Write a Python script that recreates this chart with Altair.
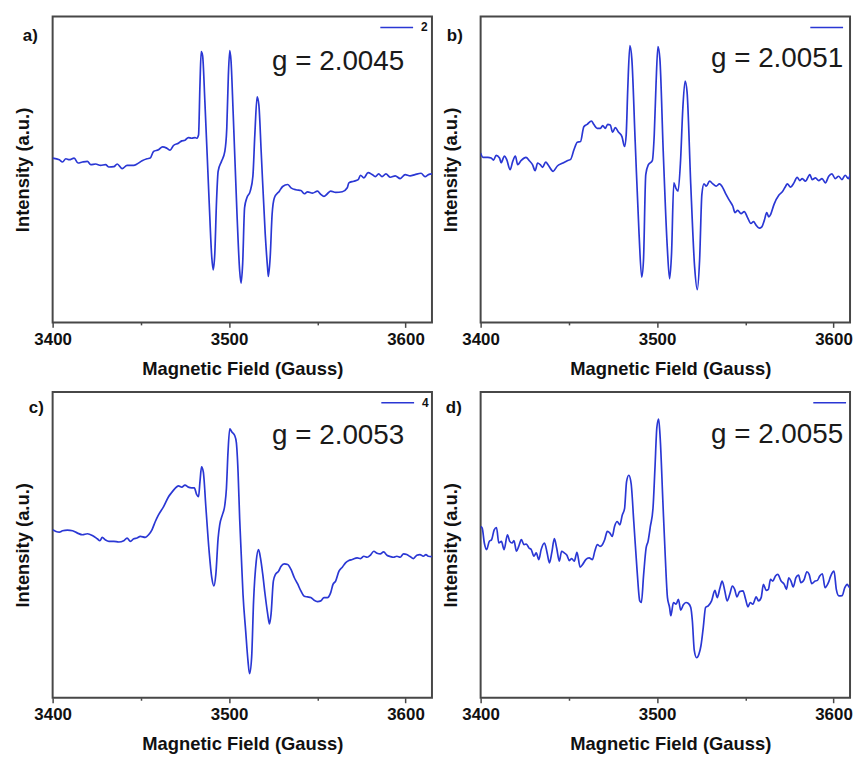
import altair as alt
import pandas as pd

# ---- EPR spectra (field in Gauss, intensity in arbitrary units) ----
A_FIELD = [3400.0, 3403.8, 3405.6, 3407.5, 3409.4, 3412.2, 3414.4, 3416.9, 3419.7, 3421.6,
           3424.4, 3427.2, 3430.0, 3431.9, 3434.7, 3436.6, 3439.4, 3442.2, 3446.0, 3447.8,
           3450.7, 3453.5, 3455.3, 3457.2, 3460.0, 3462.3, 3464.7, 3466.6, 3468.5, 3471.3,
           3473.2, 3475.0, 3476.9, 3478.8, 3480.7, 3481.6, 3482.7, 3483.5, 3484.2, 3485.0,
           3486.3, 3488.7, 3490.2, 3491.0, 3491.9, 3492.9, 3493.8, 3495.7, 3497.6, 3498.7,
           3499.6, 3500.4, 3501.1, 3502.3, 3504.5, 3506.0, 3506.8, 3507.7, 3508.8, 3510.1,
           3512.0, 3513.5, 3514.6, 3515.9, 3516.9, 3518.2, 3520.5, 3521.8, 3522.3, 3523.3,
           3524.4, 3525.7, 3528.5, 3530.4, 3533.2, 3535.1, 3537.9, 3540.7, 3542.6, 3544.5,
           3547.3, 3550.1, 3552.0, 3553.8, 3555.7, 3557.6, 3560.4, 3564.2, 3567.0, 3567.9,
           3570.7, 3573.2, 3574.5, 3576.4, 3578.8, 3581.1, 3582.9, 3584.8, 3586.7, 3588.9,
           3591.4, 3594.2, 3597.0, 3599.8, 3602.6, 3605.4, 3608.8, 3611.1, 3613.0, 3615.0]
A_INT = [49.7, 49.2, 48.5, 49.5, 49.2, 49.7, 48.2, 48.5, 48.7, 47.7,
         47.9, 47.5, 47.7, 47.0, 47.1, 47.9, 46.5, 47.5, 47.5, 47.9,
         48.9, 49.5, 49.7, 51.7, 52.2, 53.1, 52.7, 52.1, 53.5, 54.2,
         54.9, 55.1, 55.9, 55.7, 55.9, 55.7, 56.7, 71.7, 81.9, 80.7,
         66.7, 36.7, 19.7, 15.9, 20.7, 36.7, 45.7, 48.7, 51.7, 58.7,
         74.7, 82.2, 79.2, 63.7, 32.7, 15.7, 11.9, 17.7, 34.7, 37.7,
         39.7, 44.2, 56.7, 68.2, 65.7, 51.7, 26.7, 16.7, 13.9, 19.7,
         32.7, 37.7, 39.7, 41.1, 41.7, 40.7, 40.1, 39.9, 38.9, 39.5,
         39.1, 39.7, 38.7, 38.1, 38.9, 39.7, 39.3, 39.5, 40.7, 42.2,
         42.7, 43.2, 44.5, 43.7, 45.3, 44.7, 44.1, 44.9, 44.1, 44.9,
         43.9, 44.3, 43.5, 44.7, 44.3, 44.7, 45.1, 44.1, 44.7, 44.9]

B_FIELD = [3400.0, 3401.3, 3404.1, 3406.0, 3407.3, 3408.8, 3410.7, 3411.6, 3413.5, 3414.8,
           3416.7, 3418.2, 3419.7, 3421.0, 3422.9, 3425.7, 3427.6, 3429.4, 3430.9, 3432.3,
           3433.8, 3435.1, 3436.9, 3438.4, 3441.1, 3443.5, 3446.3, 3449.1, 3451.0, 3452.9,
           3454.8, 3456.6, 3458.5, 3460.4, 3462.8, 3464.1, 3466.0, 3467.9, 3469.2, 3470.7,
           3472.0, 3473.5, 3474.8, 3476.3, 3478.2, 3480.1, 3481.6, 3482.5, 3483.4, 3484.6,
           3485.7, 3487.6, 3489.8, 3491.3, 3492.3, 3493.6, 3495.1, 3497.3, 3498.4, 3499.4,
           3500.5, 3501.6, 3503.5, 3505.8, 3507.1, 3508.2, 3509.5, 3510.6, 3511.9, 3513.3,
           3514.6, 3515.9, 3517.0, 3519.1, 3521.3, 3522.8, 3524.1, 3525.4, 3526.6, 3527.9,
           3529.8, 3531.6, 3533.5, 3535.4, 3537.3, 3539.1, 3541.0, 3542.9, 3544.2, 3545.7,
           3547.6, 3549.4, 3551.3, 3553.2, 3554.7, 3556.0, 3557.9, 3559.4, 3560.7, 3562.2,
           3563.3, 3564.4, 3566.3, 3569.1, 3571.0, 3572.9, 3573.8, 3575.7, 3577.6, 3579.4,
           3580.9, 3582.3, 3584.1, 3586.6, 3587.9, 3589.8, 3591.6, 3593.5, 3595.4, 3597.3,
           3599.1, 3601.0, 3602.9, 3604.8, 3606.6, 3608.5, 3609.8, 3615.0]
B_INT = [51.2, 49.9, 49.9, 49.7, 49.1, 50.5, 49.7, 48.3, 50.3, 49.2,
         46.2, 48.7, 50.3, 47.7, 48.9, 49.9, 48.9, 47.7, 45.9, 48.2,
         47.7, 46.9, 48.5, 47.5, 45.7, 47.3, 48.1, 48.9, 49.3, 52.2,
         54.5, 54.7, 59.2, 59.9, 60.9, 59.9, 58.7, 58.7, 59.5, 58.7,
         59.9, 59.7, 57.5, 58.9, 57.5, 56.2, 53.2, 56.7, 70.7, 83.7,
         79.7, 54.7, 26.7, 13.7, 18.7, 44.7, 47.7, 48.9, 56.7, 71.7,
         83.4, 79.7, 51.7, 22.7, 13.2, 20.7, 42.2, 40.7, 39.7, 48.7,
         64.7, 73.0, 69.7, 41.7, 16.7, 9.9, 18.7, 38.7, 41.9, 41.2,
         42.7, 41.9, 41.2, 41.9, 40.7, 38.7, 36.9, 35.2, 33.2, 33.9,
         32.9, 33.5, 31.7, 29.9, 30.5, 29.5, 28.5, 28.9, 30.7, 33.2,
         31.9, 32.7, 35.7, 38.5, 39.5, 41.2, 41.9, 40.9, 42.2, 43.9,
         42.9, 43.5, 42.7, 44.7, 43.2, 43.7, 42.9, 43.5, 42.2, 44.2,
         44.9, 43.5, 44.2, 43.2, 44.5, 43.5, 44.9, 44.2]

C_FIELD = [3400.0, 3401.9, 3403.8, 3405.6, 3408.4, 3411.3, 3414.1, 3416.9, 3419.7, 3422.5,
           3425.3, 3426.8, 3428.1, 3430.0, 3431.9, 3434.7, 3437.5, 3440.3, 3442.2, 3444.1,
           3446.0, 3447.8, 3449.7, 3452.5, 3454.4, 3456.3, 3458.2, 3460.0, 3462.9, 3465.7,
           3467.5, 3469.4, 3471.3, 3473.2, 3475.0, 3476.9, 3478.8, 3480.3, 3481.6, 3482.7,
           3483.5, 3484.4, 3485.4, 3486.9, 3488.7, 3490.2, 3491.4, 3492.5, 3493.8, 3494.7,
           3496.2, 3497.6, 3498.5, 3499.4, 3500.4, 3501.7, 3503.2, 3504.1, 3505.1, 3506.0,
           3506.9, 3507.9, 3509.4, 3510.7, 3511.6, 3512.8, 3513.9, 3515.4, 3516.7, 3517.8,
           3519.1, 3520.4, 3521.9, 3522.9, 3523.8, 3525.1, 3526.3, 3528.1, 3529.4, 3531.3,
           3533.2, 3535.1, 3537.0, 3538.8, 3540.7, 3542.6, 3544.5, 3546.3, 3548.2, 3550.1,
           3552.0, 3553.8, 3555.7, 3557.6, 3558.9, 3560.4, 3562.3, 3564.2, 3566.0, 3567.9,
           3569.8, 3572.6, 3574.5, 3576.4, 3578.3, 3580.1, 3582.0, 3583.9, 3585.7, 3587.6,
           3589.5, 3591.4, 3593.2, 3595.1, 3597.0, 3598.9, 3600.7, 3602.6, 3604.5, 3606.4,
           3608.2, 3610.1, 3611.6, 3612.9, 3615.0]
C_INT = [50.8, 50.3, 50.1, 50.5, 50.7, 50.5, 49.8, 49.3, 49.6, 49.1,
         48.1, 47.5, 48.5, 47.7, 47.3, 47.3, 47.1, 47.5, 48.3, 47.3,
         48.1, 48.3, 48.8, 48.5, 49.3, 50.8, 53.3, 55.3, 57.8, 60.8,
         62.1, 63.3, 64.1, 63.7, 64.3, 63.7, 63.5, 63.5, 61.5, 60.8,
         65.3, 69.8, 68.3, 57.3, 44.3, 36.3, 33.8, 37.3, 48.3, 52.3,
         55.3, 58.3, 63.3, 74.3, 81.3, 80.3, 79.3, 77.3, 68.3, 54.3,
         43.3, 31.3, 20.3, 11.3, 7.3, 12.3, 29.3, 41.3, 44.8, 42.3,
         37.3, 31.3, 25.3, 22.3, 25.3, 35.3, 37.3, 38.3, 39.7, 40.5,
         40.3, 38.8, 36.3, 34.5, 32.3, 30.7, 30.5, 30.3, 29.5, 29.1,
         29.3, 30.3, 30.3, 31.8, 34.3, 35.3, 38.3, 39.5, 40.8, 41.5,
         41.8, 42.3, 42.1, 42.8, 42.5, 43.1, 44.3, 43.7, 43.5, 44.1,
         43.1, 42.7, 42.5, 42.8, 42.5, 43.5, 43.3, 42.7, 42.1, 43.1,
         43.3, 42.8, 43.3, 42.8, 42.7]

D_FIELD = [3400.0, 3400.9, 3402.1, 3403.4, 3404.9, 3406.2, 3407.7, 3409.0, 3410.3, 3411.8,
           3413.3, 3415.2, 3416.5, 3417.8, 3418.9, 3420.3, 3421.6, 3423.1, 3424.6, 3425.9,
           3427.4, 3428.7, 3430.2, 3431.5, 3433.0, 3434.3, 3436.2, 3437.7, 3439.0, 3440.3,
           3441.8, 3443.1, 3444.6, 3445.9, 3447.4, 3448.9, 3450.3, 3451.6, 3453.1, 3454.6,
           3456.4, 3457.8, 3459.6, 3461.5, 3463.4, 3464.7, 3466.2, 3467.7, 3469.0, 3470.3,
           3471.8, 3473.3, 3474.6, 3475.9, 3477.4, 3478.9, 3480.3, 3481.6, 3482.7, 3484.0,
           3485.3, 3486.8, 3488.7, 3490.2, 3491.1, 3492.4, 3493.8, 3494.9, 3496.2, 3497.7,
           3498.8, 3499.9, 3500.9, 3501.8, 3503.3, 3504.6, 3505.9, 3507.1, 3507.8, 3509.3,
           3510.8, 3512.1, 3513.4, 3514.9, 3516.4, 3517.8, 3519.1, 3520.0, 3521.1, 3522.4,
           3523.8, 3524.9, 3526.2, 3527.5, 3529.0, 3530.9, 3532.8, 3534.1, 3535.6, 3536.9,
           3538.4, 3539.7, 3541.2, 3542.7, 3544.0, 3545.3, 3546.8, 3548.7, 3550.2, 3551.5,
           3552.8, 3554.3, 3556.2, 3557.5, 3559.0, 3560.3, 3561.8, 3563.1, 3564.3, 3565.6,
           3567.1, 3568.4, 3570.3, 3572.1, 3573.4, 3574.6, 3575.9, 3577.2, 3578.7, 3580.2,
           3581.5, 3583.4, 3584.9, 3586.2, 3587.7, 3589.6, 3590.9, 3592.2, 3593.7, 3595.2,
           3597.1, 3598.4, 3600.3, 3601.6, 3603.1, 3604.9, 3606.4, 3607.8, 3609.1, 3615.0]
D_INT = [51.8, 51.3, 46.8, 44.8, 47.3, 47.8, 50.8, 51.5, 46.8, 47.3,
         44.8, 49.3, 47.3, 46.8, 47.5, 44.3, 45.8, 47.8, 46.3, 46.5,
         45.3, 44.8, 42.8, 43.8, 41.8, 44.8, 46.8, 43.8, 40.8, 43.8,
         48.1, 45.3, 41.3, 44.3, 43.8, 43.1, 41.5, 42.1, 41.3, 44.0,
         39.5, 40.3, 41.8, 42.3, 41.8, 44.3, 46.3, 45.8, 46.3, 47.8,
         50.3, 49.8, 48.8, 51.8, 53.3, 52.3, 55.3, 57.3, 65.3, 67.3,
         64.8, 53.3, 38.3, 29.3, 28.8, 37.3, 45.3, 47.3, 51.8, 57.3,
         69.3, 81.8, 84.3, 78.3, 59.3, 43.3, 30.3, 27.3, 24.8, 28.8,
         28.3, 29.8, 26.5, 28.1, 28.8, 28.5, 27.3, 23.3, 14.3, 12.1,
         13.3, 15.8, 21.3, 27.3, 27.8, 29.3, 32.5, 30.3, 33.1, 35.3,
         32.3, 29.3, 31.3, 33.8, 32.8, 30.5, 32.1, 32.3, 29.8, 27.5,
         28.8, 28.3, 30.5, 29.3, 30.3, 34.3, 32.5, 32.8, 35.8, 35.3,
         36.8, 37.3, 35.3, 34.3, 32.8, 36.3, 35.3, 33.5, 36.3, 37.1,
         34.8, 35.8, 38.1, 37.3, 34.5, 35.3, 35.5, 36.8, 37.5, 33.3,
         34.8, 36.8, 38.3, 32.8, 30.8, 30.9, 33.3, 34.3, 33.3, 33.8]

PANEL_TAGS = ["a)", "b)", "c)", "d)"]
G_VALUES = ["2.0045", "2.0051", "2.0053", "2.0055"]
SAMPLE_IDS = ["2", "3", "4", "5"]
X_TICKS = [3400, 3450, 3500, 3550, 3600]

FONT = "Liberation Sans"
BLUE = "#2a37d4"
FRAME = "#474747"
H = 308
PX_PER_G = 382 / 215.0          # full-range panel: 3400-3615 G over 382 px
RIGHT_W = 372                   # right-hand panels are trimmed at the page edge
RIGHT_MAX = 3400 + RIGHT_W / PX_PER_G


def spectrum_panel(field, inten, tag, gval, sample, tag_pos, g_pos, leg_x,
                   width, x_max, show_sample_label):
    data = pd.DataFrame({"field": field, "intensity": inten})
    x = alt.X(
        "field:Q",
        title="Magnetic Field (Gauss)",
        scale=alt.Scale(domain=[3400, x_max], nice=False, zero=False),
        axis=alt.Axis(
            values=X_TICKS,
            format="d",
            labelExpr="datum.value % 100 === 0 ? datum.label : ''",
            tickSize={"condition": {"test": "datum.value % 100 === 0", "value": 5}, "value": 2.5},
            titleX=191,
            labelOverlap=False,
            labelBound=False,
            labelFlush=False,
        ),
    )
    y = alt.Y(
        "intensity:Q",
        title="Intensity (a.u.)",
        scale=alt.Scale(domain=[0, 92.5], nice=False, zero=False),
        axis=alt.Axis(labels=False, ticks=False),
    )
    line = alt.Chart(data).mark_line(
        color=BLUE, strokeWidth=1.7, interpolate="monotone", clip=True
    ).encode(x=x, y=y)

    tag_layer = alt.Chart(pd.DataFrame({"t": [tag]})).mark_text(
        align="left", baseline="alphabetic", font=FONT, fontSize=17,
        fontWeight="bold", color="#111111"
    ).encode(x=alt.value(tag_pos[0]), y=alt.value(tag_pos[1]), text="t:N")

    g_layer = alt.Chart(pd.DataFrame({"t": ["g = " + gval]})).mark_text(
        align="left", baseline="alphabetic", font=FONT, fontSize=28, color="#1a1a1a"
    ).encode(x=alt.value(g_pos[0]), y=alt.value(g_pos[1]), text="t:N")

    leg_line = alt.Chart(pd.DataFrame({"t": [sample]})).mark_rule(
        color=BLUE, strokeWidth=1.6
    ).encode(x=alt.value(leg_x), x2=alt.value(leg_x + 33), y=alt.value(11))

    layers = [line, tag_layer, g_layer, leg_line]
    if show_sample_label:
        layers.append(
            alt.Chart(pd.DataFrame({"t": [sample]})).mark_text(
                align="left", baseline="middle", font=FONT, fontSize=12,
                fontWeight="bold", color="#111111"
            ).encode(x=alt.value(leg_x + 41), y=alt.value(11), text="t:N")
        )
    return alt.layer(*layers).properties(width=width, height=H)


pa = spectrum_panel(A_FIELD, A_INT, PANEL_TAGS[0], G_VALUES[0], SAMPLE_IDS[0],
                    (-30, 25), (221, 54), 330, 382, 3615, True)
pb = spectrum_panel(B_FIELD, B_INT, PANEL_TAGS[1], G_VALUES[1], SAMPLE_IDS[1],
                    (-34, 25), (232, 51), 332, RIGHT_W, RIGHT_MAX, False)
pc = spectrum_panel(C_FIELD, C_INT, PANEL_TAGS[2], G_VALUES[2], SAMPLE_IDS[2],
                    (-24, 21), (221, 52), 331, 382, 3615, True)
pd_ = spectrum_panel(D_FIELD, D_INT, PANEL_TAGS[3], G_VALUES[3], SAMPLE_IDS[3],
                     (-35, 21), (232, 51), 335, RIGHT_W, RIGHT_MAX, False)

chart = alt.vconcat(
    alt.hconcat(pa, pb, spacing=8),
    alt.hconcat(pc, pd_, spacing=8),
    spacing=12,
).properties(
    padding={"left": 13, "top": 13, "right": 0, "bottom": 0},
    background="white",
).configure_view(
    stroke=FRAME, strokeWidth=2
).configure_axis(
    domain=False, grid=False,
    labelFont=FONT, labelFontSize=17, labelFontWeight="bold", labelColor="#111111",
    titleFont=FONT, titleFontSize=18.5, titleFontWeight="bold", titleColor="#111111",
    tickColor=FRAME, tickWidth=1.5,
).configure_axisX(
    labelPadding=4, titlePadding=12,
).configure_axisY(
    titlePadding=20,
)

chart.save("out.html", embed_options={"renderer": "svg", "actions": False})
